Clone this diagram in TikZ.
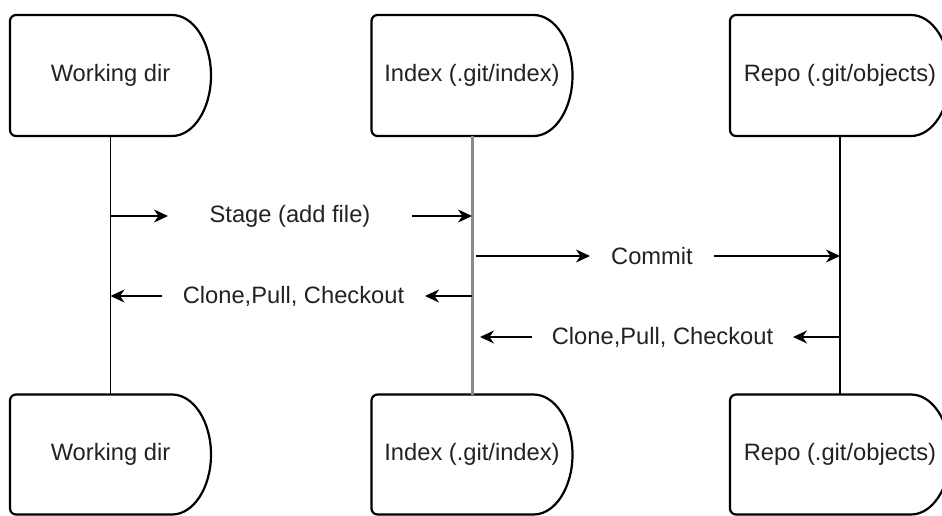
\documentclass[tikz,border=0pt]{standalone}
\usepackage{fontspec}
\setmainfont{Liberation Sans}
\usetikzlibrary{arrows.meta,calc}
\definecolor{ink}{HTML}{222222}
\definecolor{midline}{HTML}{8A8A8A}
\tikzset{
  labelfont/.style={text=ink, font=\fontsize{23.7pt}{28pt}\selectfont},
  party/.style={shape=rectangle, minimum height=121pt, inner sep=0pt, outer sep=0pt, labelfont},
  outline/.style={draw=black, line width=2.2pt, line join=round},
  lifeline/.style={draw=black, line width=1.5pt},
  msglabel/.style={shape=rectangle, minimum height=30pt, inner sep=0pt, outer sep=0pt, labelfont},
  msg/.style={draw=black, line width=1.5pt, -{Stealth[length=14pt,width=13pt,inset=4.5pt]}},
}
% delay-shaped outline round a node: flat left side with small rounded
% corners, elliptic right end
% #1 = node name, #2 = half of the node height
\newcommand\delayoutline[2]{%
  \draw[outline] ([xshift=-39pt]#1.north east)
    arc[start angle=90, end angle=-90, x radius=39pt, y radius=#2]
    -- ([xshift=6pt]#1.south west)
    arc[start angle=270, end angle=180, radius=6pt]
    -- ([yshift=-6pt]#1.north west)
    arc[start angle=180, end angle=90, radius=6pt]
    -- cycle;}
\begin{document}
\begin{tikzpicture}[x=1pt, y=-1pt]
\useasboundingbox (0,0) rectangle (942,516);

% participants, top row
\node[party, minimum width=201pt] (wdtop)   at (110.5,75.5) {Working dir};
\node[party, minimum width=201pt] (idxtop)  at (472,75.5)   {Index (.git/index)};
\node[party, minimum width=220pt] (repotop) at (840,75.5)   {Repo (.git/objects)};
% participants, bottom row
\node[party, minimum width=201pt, minimum height=120pt] (wdbot)   at (110.5,454.5) {Working dir};
\node[party, minimum width=201pt, minimum height=120pt] (idxbot)  at (472,454.5)   {Index (.git/index)};
\node[party, minimum width=220pt, minimum height=120pt] (repobot) at (840,454.5)   {Repo (.git/objects)};

\delayoutline{wdtop}{60.5pt}
\delayoutline{idxtop}{60.5pt}
\delayoutline{repotop}{60.5pt}
\delayoutline{wdbot}{60pt}
\delayoutline{idxbot}{60pt}
\delayoutline{repobot}{60pt}

% lifelines
\draw[lifeline] (wdtop) -- (wdbot);
\draw[lifeline, draw=midline, line width=3pt] (idxtop) -- (idxbot);
\draw[lifeline] (repotop) -- (repobot);

% messages
\node[msglabel, minimum width=244pt] (stage) at (290,216) {Stage (add file)};
\draw[msg] (wdtop |- stage) -- (stage.west);
\draw[msg] (stage.east) -- (idxtop |- stage);

\node[msglabel, minimum width=124pt] (commit) at (652,256) {Commit};
\draw[msg] ($(idxtop |- commit)+(4,0)$) -- (commit.west);
\draw[msg] (commit.east) -- (repotop |- commit);

\node[msglabel, minimum width=263pt] (clonewd) at (293.5,296) {Clone,Pull, Checkout};
\draw[msg] (idxtop |- clonewd) -- (clonewd.east);
\draw[msg] (clonewd.west) -- (wdtop |- clonewd);

\node[msglabel, minimum width=261pt] (cloneidx) at (662.5,337) {Clone,Pull, Checkout};
\draw[msg] (repotop |- cloneidx) -- (cloneidx.east);
\draw[msg] (cloneidx.west) -- ($(idxtop |- cloneidx)+(8,0)$);
\end{tikzpicture}
\end{document}
